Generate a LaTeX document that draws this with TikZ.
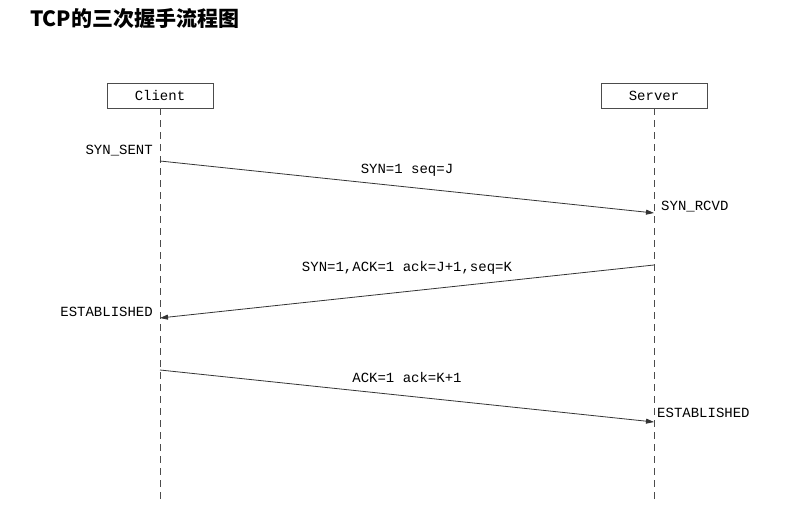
\documentclass[tikz,border=0pt]{standalone}
\usepackage{fontspec}
\setmonofont{Liberation Mono}
\newfontfamily\cjk{Noto Sans CJK SC}
\usetikzlibrary{arrows.meta}
\begin{document}
\begin{tikzpicture}[x=1pt,y=-1pt,
  lbl/.style={font=\ttfamily\fontsize{14}{14}\selectfont, inner sep=0pt},
  actor/.style={draw=black!70, minimum width=106pt, minimum height=25pt, inner sep=0pt, font=\ttfamily\fontsize{14}{14}\selectfont},
  life/.style={draw=black!70, dashed, dash pattern=on 7pt off 5pt, line width=0.8pt},
  msg/.style={draw=black!80, line width=0.8pt, -{Triangle[length=8pt,width=5pt]}}]
\useasboundingbox (0,0) rectangle (804,529);
\node[anchor=west, inner sep=0pt, font=\cjk\bfseries\fontsize{21}{21}\selectfont] (title) at (30,19) {TCP的三次握手流程图};
\node[actor] (client) at (160,95.5) {Client};
\node[actor] (server) at (654,95.5) {Server};
\coordinate (cend) at (160,500);
\coordinate (send) at (654,500);
\draw[life] (client.south) -- (cend);
\draw[life] (server.south) -- (send);
\coordinate (c1) at (160,161);
\coordinate (s1) at (654,213);
\coordinate (s2) at (654,265);
\coordinate (c2) at (160,318);
\coordinate (c3) at (160,370);
\coordinate (s3) at (654,422);
\draw[msg] (c1) -- (s1);
\draw[msg] (s2) -- (c2);
\draw[msg] (c3) -- (s3);
\node[lbl] (l1) at (407,170) {SYN=1 seq=J};
\node[lbl] (l2) at (407,268) {SYN=1,ACK=1 ack=J+1,seq=K};
\node[lbl] (l3) at (407,377) {ACK=1 ack=K+1};
\node[lbl, anchor=east] (st1) at (153,151) {SYN\_SENT};
\node[lbl, anchor=west] (st2) at (661,207) {SYN\_RCVD};
\node[lbl, anchor=east] (st3) at (153,312) {ESTABLISHED};
\node[lbl, anchor=west] (st4) at (657,413) {ESTABLISHED};
\end{tikzpicture}
\end{document}
